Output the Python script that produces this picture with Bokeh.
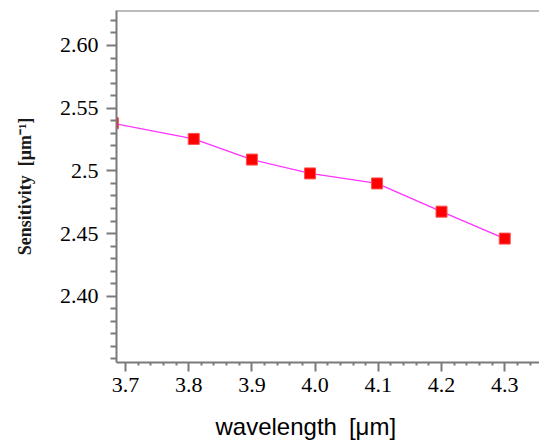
from bokeh.plotting import figure
from bokeh.models import FixedTicker, Range1d, Span, Title, CustomJSTickFormatter
from bokeh.embed import file_html
from bokeh.resources import INLINE

# data
wavelength = [3.68, 3.808, 3.90, 3.992, 4.098, 4.20, 4.30]
sensitivity = [2.538, 2.5255, 2.509, 2.498, 2.490, 2.4675, 2.446]

x_ticks = [3.7, 3.8, 3.9, 4.0, 4.1, 4.2, 4.3]
x_tick_labels = ["3.7", "3.8", "3.9", "4.0", "4.1", "4.2", "4.3"]
x_minor_ticks = [3.68, 3.72, 3.74, 3.76, 3.78, 3.82, 3.84, 3.86, 3.88,
                 3.92, 3.94, 3.96, 3.98, 4.02, 4.04, 4.06, 4.08,
                 4.12, 4.14, 4.16, 4.18, 4.22, 4.24, 4.26, 4.28,
                 4.32, 4.34]
y_ticks = [2.40, 2.45, 2.5, 2.55, 2.60]
y_tick_labels = ["2.40", "2.45", "2.5", "2.55", "2.60"]
y_minor_ticks = [2.35, 2.36, 2.37, 2.38, 2.39, 2.41, 2.42, 2.43, 2.44,
                 2.46, 2.47, 2.48, 2.49, 2.51, 2.52, 2.53, 2.54,
                 2.56, 2.57, 2.58, 2.59, 2.61, 2.62]

x_label = "wavelength\u2002[μm]"
y_label = "Sensitivity\u2002[μm⁻¹]"

x_start, x_end = 3.6858, 4.355
y_start, y_end = 2.3472, 2.6279

SERIF = "Liberation Serif"
SANS = "Liberation Sans"

p = figure(width=539, height=447,
           x_range=Range1d(x_start, x_end), y_range=Range1d(y_start, y_end),
           output_backend="svg", toolbar_location=None,
           min_border_left=116, min_border_right=0,
           min_border_top=10, min_border_bottom=85)
p.xgrid.visible = False
p.ygrid.visible = False
p.outline_line_color = None
p.background_fill_color = "white"
p.border_fill_color = "white"

fmt_code = """
let best = 0, bd = 1e9;
for (let i = 0; i < tvals.length; i++) {
  const d = Math.abs(tvals[i] - tick);
  if (d < bd) { bd = d; best = i; }
}
return tlabels[best];
"""

axis_color = "#7a7a7a"
xax = p.xaxis[0]
yax = p.yaxis[0]
xax.ticker = FixedTicker(ticks=x_ticks, minor_ticks=x_minor_ticks)
xax.formatter = CustomJSTickFormatter(args=dict(tvals=x_ticks, tlabels=x_tick_labels), code=fmt_code)
yax.ticker = FixedTicker(ticks=y_ticks, minor_ticks=y_minor_ticks)
yax.formatter = CustomJSTickFormatter(args=dict(tvals=y_ticks, tlabels=y_tick_labels), code=fmt_code)

for ax in (xax, yax):
    ax.axis_line_color = axis_color
    ax.axis_line_width = 2
    ax.major_tick_line_color = axis_color
    ax.major_tick_line_width = 2
    ax.minor_tick_line_color = axis_color
    ax.minor_tick_line_width = 2
    ax.major_tick_in = 0
    ax.minor_tick_in = 0
    ax.major_label_text_font_size = "22px"
    ax.major_label_text_font_style = "normal"
    ax.major_label_text_color = "black"
xax.major_label_text_font = "Times New Roman"
yax.major_label_text_font = "serif"

yax.major_tick_out = 10
yax.minor_tick_out = 6
yax.major_label_standoff = 8
xax.major_tick_out = 9
xax.minor_tick_out = 3
xax.major_label_standoff = 6
# invisible spacer label pushing the x title down
xax.axis_label = " "
xax.axis_label_text_font_size = "1px"
xax.axis_label_standoff = 12

yax.axis_label = y_label
yax.axis_label_text_font = SERIF
yax.axis_label_text_font_style = "bold"
yax.axis_label_text_font_size = "18px"
yax.axis_label_text_color = "#1a1a1a"
yax.axis_label_standoff = 22

p.add_layout(Span(location=y_end, dimension="width",
                  line_color=axis_color, line_width=2))

p.line(wavelength, sensitivity, line_color="#ff33ff", line_width=1.3)
p.scatter(wavelength, sensitivity, marker="square", size=11,
          fill_color="#ff0000", line_color="#ff5050", line_width=1)

p.add_layout(Title(text=x_label, align="left", offset=99, standoff=0,
                   text_font=SANS, text_font_style="normal",
                   text_font_size="24px", text_color="black"), "below")

open("out.html", "w").write(file_html(p, INLINE))
